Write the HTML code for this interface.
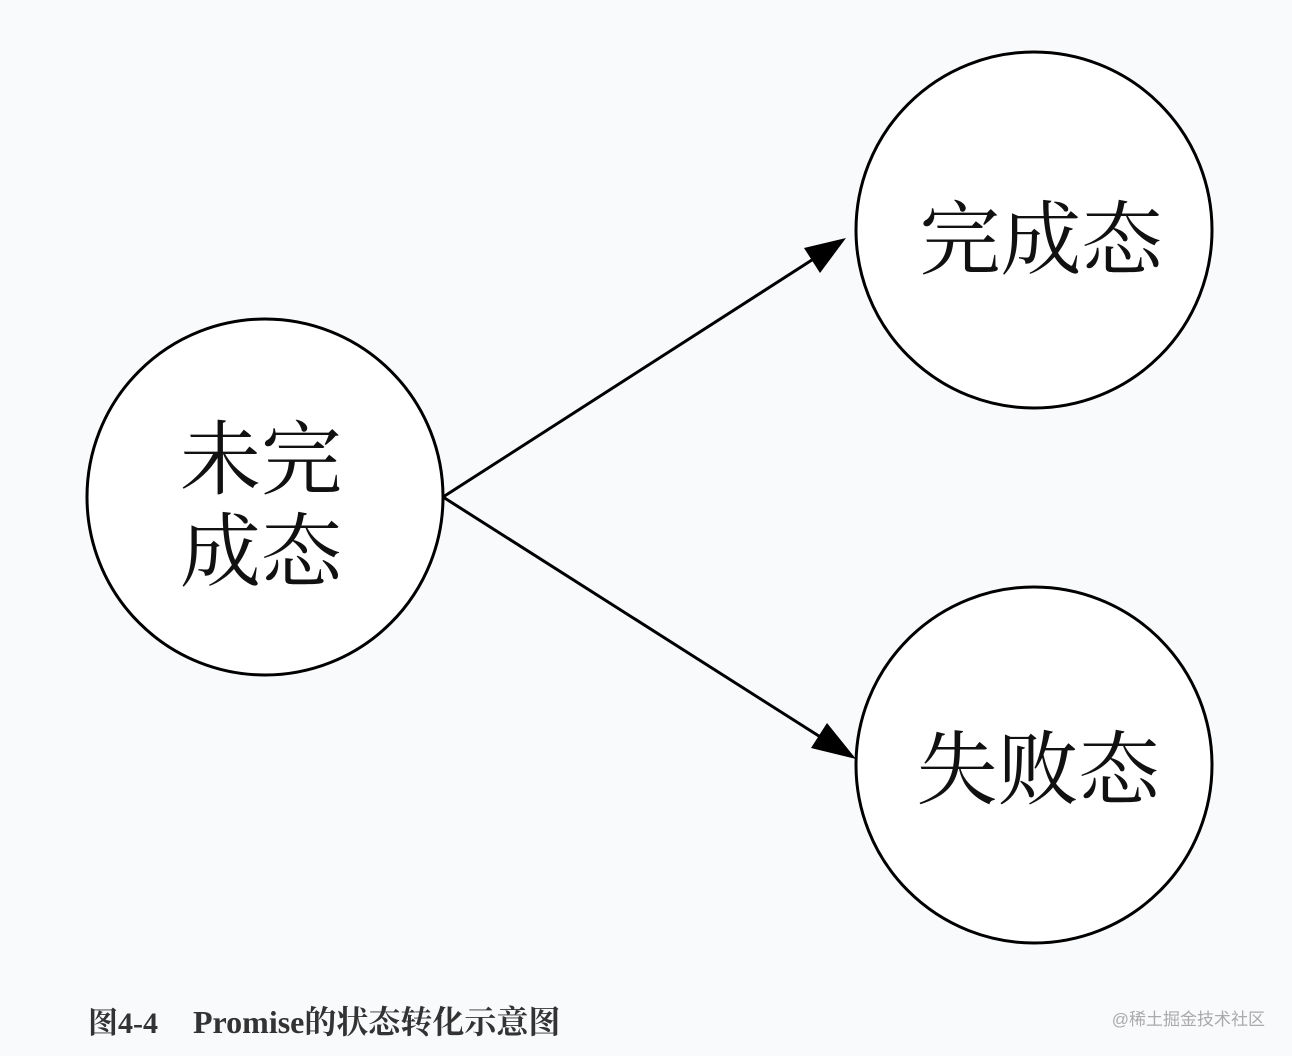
<!DOCTYPE html>
<html><head><meta charset="utf-8"><style>
html,body{margin:0;padding:0;background:#f9fafc;}
svg{display:block}
</style></head><body>
<svg width="1292" height="1056" viewBox="0 0 1292 1056" xmlns="http://www.w3.org/2000/svg">
<rect width="1292" height="1056" fill="#f9fafc"/>
<g fill="#fff" stroke="#000" stroke-width="3">
<circle cx="265" cy="497" r="178"/>
<circle cx="1034" cy="230" r="178"/>
<circle cx="1034" cy="765" r="178"/>
</g>
<g stroke="#000" stroke-width="3">
<line x1="443" y1="497" x2="815" y2="258"/>
<line x1="443" y1="497" x2="822" y2="738"/>
</g>
<polygon points="846,238 804,248 820,273" fill="#000"/>
<polygon points="856,759 811,748 827,723" fill="#000"/>
<g font-family="'Noto Serif CJK SC','Liberation Serif',serif" font-size="81" fill="#111" text-anchor="middle">
<text x="261" y="488">未完</text>
<text x="261" y="580">成态</text>
<text x="1041" y="268">完成态</text>
<text x="1038" y="798">失败态</text>
</g>
<text x="88" y="1033" font-family="'Liberation Serif','Noto Serif CJK SC',serif" font-size="30" font-weight="bold" fill="#333">图4-4</text>
<text x="193" y="1033" font-family="'Liberation Serif','Noto Serif CJK SC',serif" font-size="32" font-weight="bold" fill="#333">Promise的状态转化示意图</text>
<text x="1265" y="1025" text-anchor="end" font-family="'Liberation Sans','Noto Sans CJK SC',sans-serif" font-size="17" fill="#aaa">@稀土掘金技术社区</text>
</svg>
</body></html>
